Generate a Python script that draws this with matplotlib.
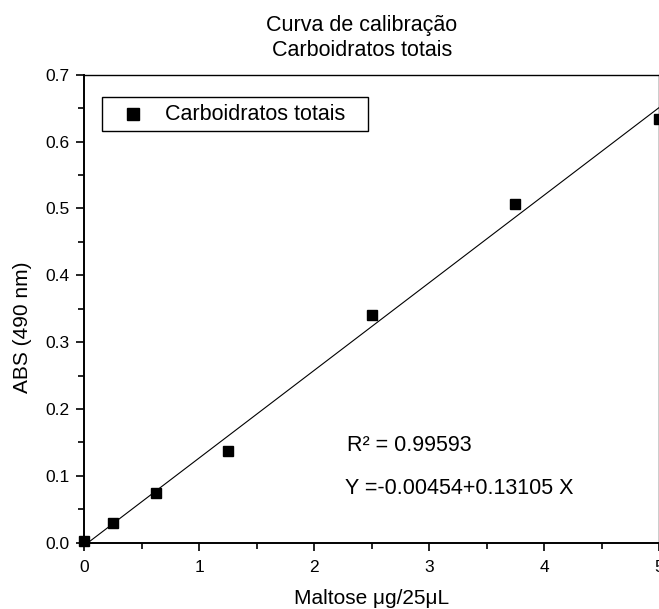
import numpy as np
import matplotlib.pyplot as plt
from matplotlib.patches import Rectangle
from matplotlib.ticker import MultipleLocator

plt.rcParams['font.family'] = ['Liberation Sans', 'DejaVu Sans']

# calibration points (maltose ug/25uL vs absorbance at 490 nm)
maltose = [0.0, 0.25, 0.625, 1.25, 2.5, 3.75, 5.0]
absorb = [0.002, 0.029, 0.074, 0.137, 0.340, 0.507, 0.634]

# linear fit reported on the chart
intercept = -0.00454
slope = 0.13105
r2 = 0.99593

W, H = 659, 609
fig = plt.figure(figsize=(W / 100, H / 100), dpi=100)
ax = fig.add_axes([84 / W, 1 - 542.7 / H, 575 / W, 468 / H])

x_fit = np.array([0.0, 5.0])
ax.plot(x_fit, intercept + slope * x_fit, color='black', linewidth=0.8)
ax.plot(maltose, absorb, linestyle='none', marker='s', markersize=6.5,
        color='black', clip_on=False, zorder=3)

ax.set_xlim(0, 5)
ax.set_ylim(0, 0.7)
ax.xaxis.set_major_locator(MultipleLocator(1))
ax.xaxis.set_minor_locator(MultipleLocator(0.5))
ax.yaxis.set_major_locator(MultipleLocator(0.1))
ax.yaxis.set_minor_locator(MultipleLocator(0.05))
ax.set_yticks(np.arange(0, 0.71, 0.1))
ax.set_yticklabels([f'{v:.1f}' for v in np.arange(0, 0.71, 0.1)])

ax.tick_params(which='major', direction='out', length=5.8, width=1.2, labelsize=12.5, pad=4.5)
ax.tick_params(axis='x', which='major', pad=6.5)
ax.tick_params(which='minor', direction='out', length=4.3, width=1.2)
ax.spines['left'].set_linewidth(1.4)
ax.spines['bottom'].set_linewidth(1.4)
ax.spines['top'].set_linewidth(1.0)
ax.spines['right'].set_linewidth(1.0)

ax.set_xlabel('Maltose \u03bcg/25\u03bcL', fontsize=15, va='center')
ax.xaxis.set_label_coords(0.5, (542.7 - 598) / 468)
ax.set_ylabel('ABS (490 nm)', fontsize=15, va='center')
ax.yaxis.set_label_coords((23 - 84) / 575, (542.7 - 327) / 468)

fig.text(362 / W, 1 - 25 / H, 'Curva de calibra\u00e7\u00e3o', ha='center', va='center', fontsize=15.5)
fig.text(362 / W, 1 - 50 / H, 'Carboidratos totais', ha='center', va='center', fontsize=15.5)

ax.text(2.284, 0.1376, 'R\u00b2 = %.5f' % r2, fontsize=15.5, va='baseline')
ax.text(2.27, 0.0728, 'Y =%.5f+%.5f X' % (intercept, slope), fontsize=15.5, va='baseline')

# legend box drawn by hand to match the boxed key of the original
box = Rectangle((101.5 / W, 1 - 130.5 / H), 266.5 / W, 33.5 / H, transform=fig.transFigure,
                facecolor='white', edgecolor='black', linewidth=1.0, zorder=4)
fig.add_artist(box)
fig.add_artist(plt.Line2D([133 / W], [1 - 114 / H], transform=fig.transFigure, marker='s',
                          markersize=8, color='black', linestyle='none', zorder=5))
fig.text(165 / W, 1 - 114 / H, 'Carboidratos totais', fontsize=15.5, va='center', zorder=5)

fig.savefig('out.png', dpi=100)
